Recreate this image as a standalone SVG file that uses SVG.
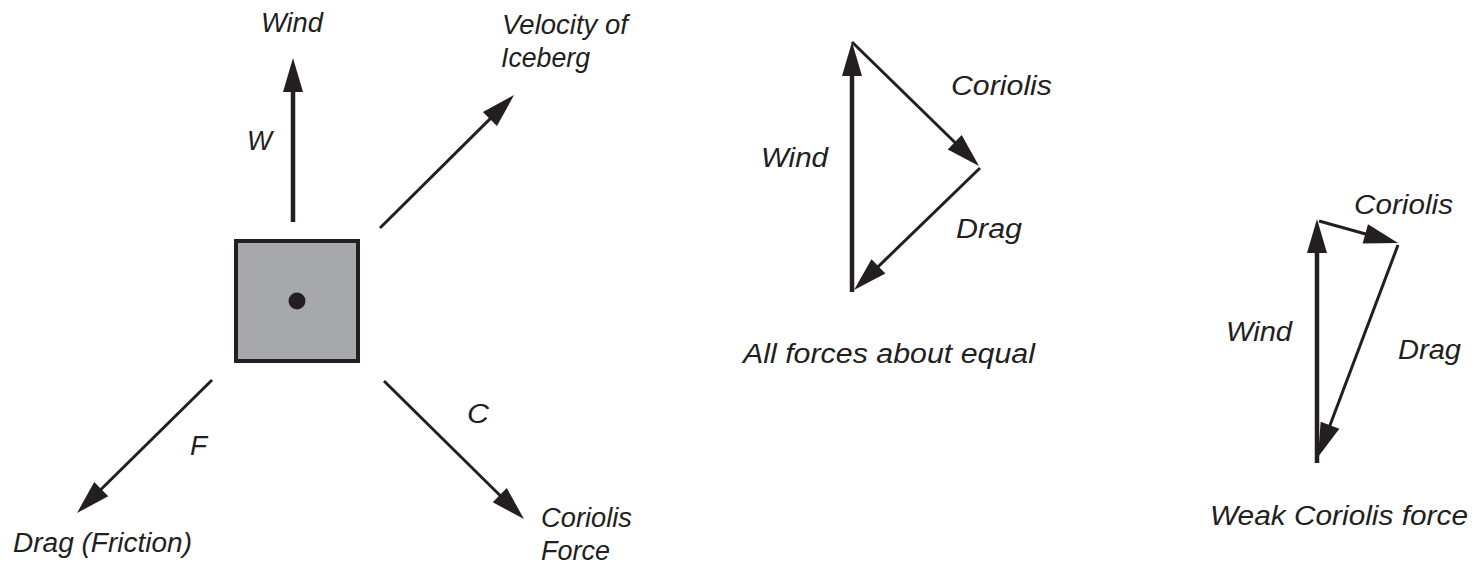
<svg xmlns="http://www.w3.org/2000/svg" width="1479" height="564" viewBox="0 0 1479 564">
<style>
  .t { font-family: "Liberation Sans", Arial, sans-serif; font-style: italic; font-size: 27px; fill: #231f20; }
  .thick { stroke: #231f20; stroke-width: 4.5; fill: none; }
  .thin { stroke: #231f20; stroke-width: 3; fill: none; }
</style>
<defs>
  <marker id="ah" markerUnits="userSpaceOnUse" markerWidth="34" markerHeight="20" refX="19" refY="10" orient="auto" overflow="visible">
    <path d="M0,0 L34,10 L0,20 z" fill="#231f20"/>
  </marker>
</defs>
<rect x="0" y="0" width="1479" height="564" fill="#ffffff"/>

<g id="iceberg">
  <rect x="236" y="241" width="122" height="120" fill="#a7a8ab" stroke="#231f20" stroke-width="4"/>
  <circle cx="297" cy="301" r="8.5" fill="#231f20"/>
</g>

<g id="connectors">
  <line class="thick" x1="293" y1="222" x2="293" y2="73" marker-end="url(#ah)"/>
  <line class="thin" x1="380" y1="228" x2="503.4" y2="105.6" marker-end="url(#ah)"/>
  <line class="thin" x1="212" y1="380" x2="87.7" y2="502.5" marker-end="url(#ah)"/>
  <line class="thin" x1="384" y1="381" x2="513.3" y2="508.5" marker-end="url(#ah)"/>

  <line class="thick" x1="852" y1="292" x2="852" y2="57" marker-end="url(#ah)"/>
  <line class="thin" x1="852" y1="42" x2="968.3" y2="155.5" marker-end="url(#ah)"/>
  <line class="thin" x1="980" y1="168" x2="864.8" y2="279.6" marker-end="url(#ah)"/>

  <line class="thick" x1="1317" y1="463" x2="1317" y2="234" marker-end="url(#ah)"/>
  <line class="thin" x1="1319" y1="221" x2="1383.6" y2="239" marker-end="url(#ah)"/>
  <line class="thin" x1="1398" y1="245" x2="1323.3" y2="443" marker-end="url(#ah)"/>
</g>

<g id="labels-left">
  <text class="t" x="261" y="32" textLength="62" lengthAdjust="spacingAndGlyphs">Wind</text>
  <text class="t" x="247" y="150" textLength="25" lengthAdjust="spacingAndGlyphs">W</text>
  <text class="t" x="502" y="34" textLength="126" lengthAdjust="spacingAndGlyphs">Velocity of</text>
  <text class="t" x="501" y="67" textLength="89" lengthAdjust="spacingAndGlyphs">Iceberg</text>
  <text class="t" x="190" y="455" textLength="17" lengthAdjust="spacingAndGlyphs">F</text>
  <text class="t" x="467" y="423" textLength="22" lengthAdjust="spacingAndGlyphs">C</text>
  <text class="t" x="13" y="552" textLength="179" lengthAdjust="spacingAndGlyphs">Drag (Friction)</text>
  <text class="t" x="541" y="527" textLength="91" lengthAdjust="spacingAndGlyphs">Coriolis</text>
  <text class="t" x="541" y="560" textLength="69" lengthAdjust="spacingAndGlyphs">Force</text>
</g>

<g id="labels-middle">
  <text class="t" x="951" y="95" textLength="101" lengthAdjust="spacingAndGlyphs">Coriolis</text>
  <text class="t" x="761" y="167" textLength="67" lengthAdjust="spacingAndGlyphs">Wind</text>
  <text class="t" x="956" y="238" textLength="66" lengthAdjust="spacingAndGlyphs">Drag</text>
  <text class="t" x="743" y="363" textLength="292" lengthAdjust="spacingAndGlyphs">All forces about equal</text>
</g>

<g id="labels-right">
  <text class="t" x="1354" y="214" textLength="99" lengthAdjust="spacingAndGlyphs">Coriolis</text>
  <text class="t" x="1226" y="341" textLength="66" lengthAdjust="spacingAndGlyphs">Wind</text>
  <text class="t" x="1398" y="359" textLength="63" lengthAdjust="spacingAndGlyphs">Drag</text>
  <text class="t" x="1210" y="525" textLength="258" lengthAdjust="spacingAndGlyphs">Weak Coriolis force</text>
</g>
</svg>
